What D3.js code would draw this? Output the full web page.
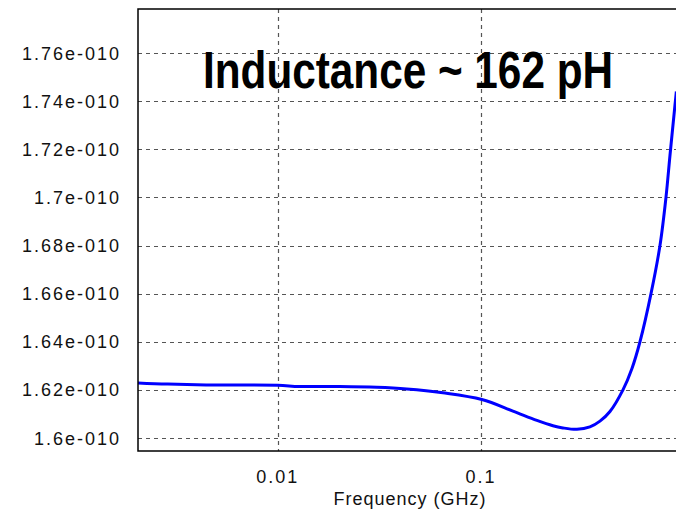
<!DOCTYPE html>
<html>
<head>
<meta charset="utf-8" />
<script src="https://cdn.jsdelivr.net/npm/d3@7"></script>
<style>
html, body { margin: 0; padding: 0; background: #fff; }
.tick-label { font-family: "Liberation Sans", Arial, sans-serif; font-size: 18px; fill: #111; letter-spacing: 2px; }
.grid line { stroke: #555; stroke-width: 1.2; stroke-dasharray: 4 4; }
.title { font-family: "Liberation Sans Narrow", "Liberation Sans", sans-serif; font-size: 52px; font-weight: bold; fill: #000; }
</style>
</head>
<body>
<div id="chart"></div>
<script>
// frequency in GHz, inductance in units of 1e-10 H
var freq = [0.00204, 0.00287, 0.00518, 0.0100, 0.0128, 0.0202, 0.0307, 0.0432, 0.0650, 0.1011,
            0.1438, 0.1887, 0.2263, 0.2534, 0.2971, 0.3442, 0.3857, 0.4320, 0.5006,
            0.5544, 0.6071, 0.6879, 0.7616, 0.8152, 0.8532, 0.9031, 0.9170];
var induct = [1.6229, 1.6224, 1.6220, 1.6219, 1.6214, 1.6214, 1.6211, 1.6204, 1.6188, 1.6160,
              1.6112, 1.6073, 1.6051, 1.6042, 1.6036, 1.6046, 1.6070, 1.6110, 1.6200,
              1.6289, 1.6400, 1.6600, 1.6800, 1.7000, 1.7175, 1.7385, 1.7440];
var yTicks = [1.60, 1.62, 1.64, 1.66, 1.68, 1.70, 1.72, 1.74, 1.76];
var xTicks = [0.01, 0.1];
var xTickLabels = ["0.01", "0.1"];

var W = 676, H = 511;
var plotLeft = 138, plotTop = 9, plotBottom = 451;

var svg = d3.select('#chart').append('svg')
	.attr('width', W).attr('height', H);

var x = d3.scaleLog().domain([0.00205, 1]).range([plotLeft, 684]);
var y = d3.scaleLinear().domain([1.6, 1.76]).range([438, 53]);

svg.append('clipPath').attr('id', 'plotclip')
	.append('rect').attr('x', plotLeft).attr('y', plotTop)
	.attr('width', W - plotLeft).attr('height', plotBottom - plotTop);

var plot = svg.append('g').attr('clip-path', 'url(#plotclip)');

// dashed grid
var grid = plot.append('g').attr('class', 'grid');
grid.selectAll('.hg').data(yTicks).enter().append('line')
	.attr('x1', plotLeft).attr('x2', W)
	.attr('y1', function(d) { return Math.round(y(d)) + 0.5; })
	.attr('y2', function(d) { return Math.round(y(d)) + 0.5; });
grid.selectAll('.vg').data(xTicks).enter().append('line')
	.attr('y1', plotTop).attr('y2', plotBottom)
	.attr('x1', function(d) { return Math.round(x(d)) + 0.5; })
	.attr('x2', function(d) { return Math.round(x(d)) + 0.5; });

// title
svg.append('text').attr('class', 'title')
	.attr('x', 203).attr('y', 88)
	.attr('textLength', 410).attr('lengthAdjust', 'spacingAndGlyphs')
	.text('Inductance ~ 162 pH');

// curve
var line = d3.line()
	.x(function(d, i) { return x(freq[i]); })
	.y(function(d) { return y(d); })
	.curve(d3.curveCatmullRom.alpha(0.5));
plot.append('path').datum(induct)
	.attr('d', line)
	.attr('fill', 'none')
	.attr('stroke', '#0000ff')
	.attr('stroke-width', 3);

// frame (left, top, bottom)
svg.append('path')
	.attr('d', 'M' + W + ',' + plotTop + 'H' + plotLeft + 'V' + plotBottom + 'H' + W)
	.attr('fill', 'none').attr('stroke', '#000').attr('stroke-width', 1.5);

// y tick labels
svg.selectAll('.ylab').data(yTicks).enter().append('text')
	.attr('class', 'tick-label')
	.attr('x', 121).attr('y', function(d) { return y(d) + 6.5; })
	.attr('text-anchor', 'end')
	.text(function(d) { return d3.format('~g')(d) + 'e-010'; });

// x tick labels
svg.selectAll('.xlab').data(xTicks).enter().append('text')
	.attr('class', 'tick-label')
	.attr('x', function(d) { return x(d); }).attr('y', 483)
	.attr('text-anchor', 'middle')
	.text(function(d, i) { return xTickLabels[i]; });

svg.append('text').attr('class', 'tick-label')
	.attr('x', 410).attr('y', 505)
	.attr('text-anchor', 'middle')
	.style('letter-spacing', '1px')
	.text('Frequency (GHz)');
</script>
</body>
</html>
